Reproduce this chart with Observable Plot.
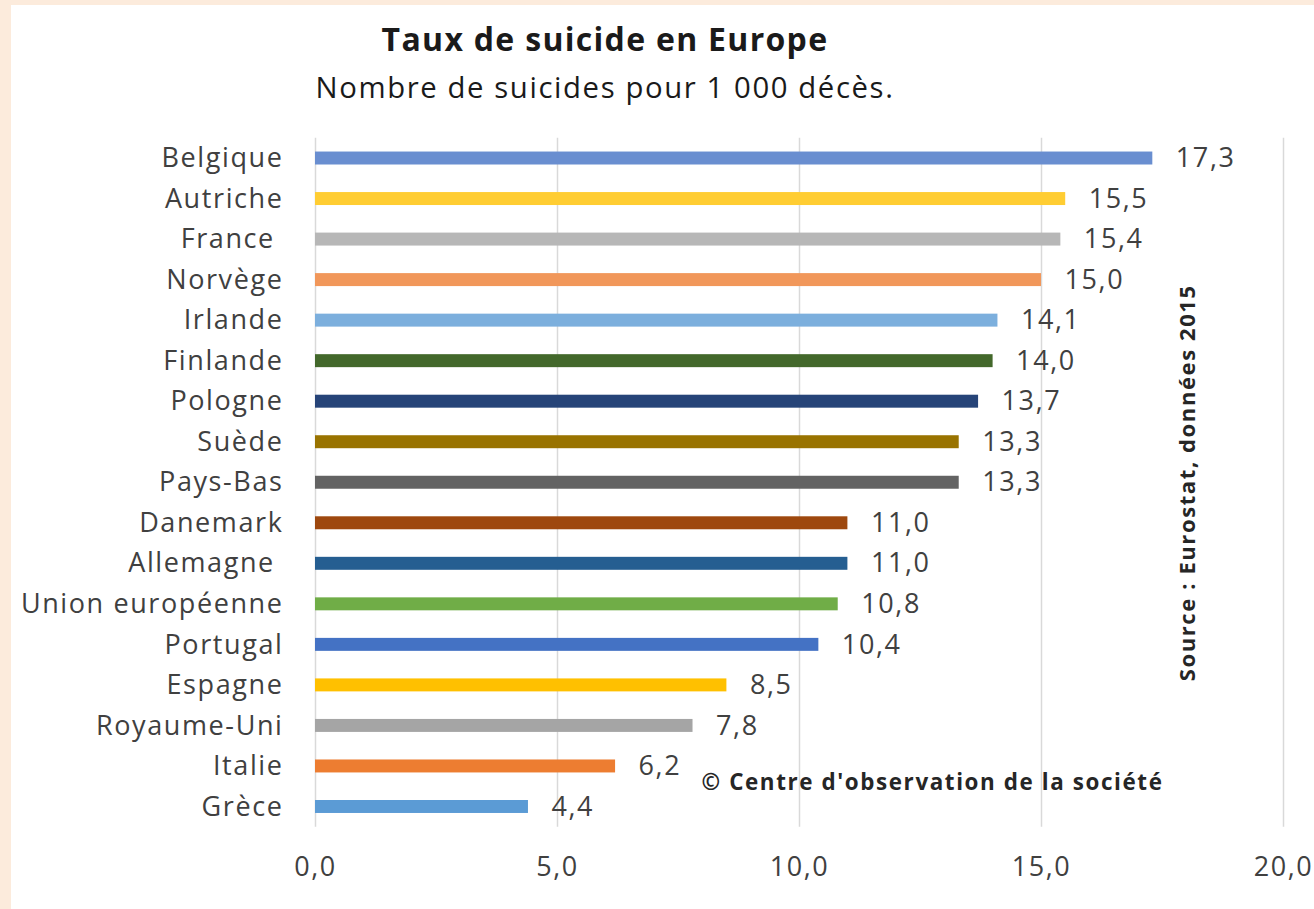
<!DOCTYPE html>
<html>
<head>
<meta charset="utf-8">
<script src="https://cdn.jsdelivr.net/npm/d3@7"></script>
<script src="https://cdn.jsdelivr.net/npm/@observablehq/plot@0.6"></script>
<style>
  html, body { margin: 0; padding: 0; background: #fcebdc; width: 1314px; height: 909px; overflow: hidden; }
  #panel { position: absolute; left: 11px; top: 5px; width: 1303px; height: 904px; background: #ffffff; }
  #title { position: absolute; left: 0; width: 1210px; top: 19px; text-align: center;
           font-family: "Open Sans", sans-serif; font-weight: 700; font-size: 32px; line-height: 40px; color: #1a1a1a; letter-spacing: 1.3px; }
  #subtitle { position: absolute; left: 0; width: 1210px; top: 67px; text-align: center;
           font-family: "Open Sans", sans-serif; font-weight: 400; font-size: 29.3px; line-height: 40px; color: #1a1a1a; letter-spacing: 1.6px; }
  #chart { position: absolute; left: 0; top: 110px; }
  #chart svg { overflow: visible; }
  #chart svg text { white-space: pre; }
  .lbl text { letter-spacing: 1.6px; }
  .note text { letter-spacing: 1.6px; }
</style>
</head>
<body>
<div id="panel"></div>
<div id="title">Taux de suicide en Europe</div>
<div id="subtitle">Nombre de suicides pour 1 000 décès.</div>
<div id="chart"></div>
<script>
const countries = ["Belgique", "Autriche", "France ", "Norvège", "Irlande", "Finlande", "Pologne", "Suède", "Pays-Bas", "Danemark", "Allemagne ", "Union européenne", "Portugal", "Espagne", "Royaume-Uni", "Italie", "Grèce"];
const rates = [17.3, 15.5, 15.4, 15.0, 14.1, 14.0, 13.7, 13.3, 13.3, 11.0, 11.0, 10.8, 10.4, 8.5, 7.8, 6.2, 4.4];
const barColors = ["#698ed0", "#ffcd33", "#b7b7b7", "#f1975a", "#7cafdd", "#43682b", "#264478", "#997300", "#636363", "#9e480e", "#255e91", "#70ad47", "#4472c4", "#ffc000", "#a5a5a5", "#ed7d31", "#5b9bd5"];
const xTicks = [0, 5, 10, 15, 20];
const gridTicks = [5, 10, 15, 20];
const sourceText = "Source : Eurostat, données 2015";
const copyrightText = "© Centre d'observation de la société";

const data = countries.map((c, i) => ({country: c, value: rates[i], color: barColors[i]}));
const fmt = v => v.toFixed(1).replace(".", ",");

const chart = Plot.plot({
  width: 1314,
  height: 799,
  marginLeft: 315,
  marginRight: 31,
  marginTop: 27.75,
  marginBottom: 82.25,
  style: {fontFamily: "Open Sans, sans-serif", fontSize: "27px", color: "#404040", background: "transparent"},
  x: {domain: [0, 20], ticks: xTicks, tickFormat: fmt, label: null},
  y: {domain: countries, paddingInner: 0.68, paddingOuter: 0.34, round: false, label: null},
  marks: [
    Plot.gridX(gridTicks, {stroke: "#d9d9d9", strokeOpacity: 1, strokeWidth: 1.5}),
    Plot.ruleX([0], {stroke: "#d9d9d9", strokeWidth: 1.5}),
    Plot.barX(data, {x: "value", y: "country", fill: "color"}),
    Plot.text(data, {x: "value", y: "country", text: d => fmt(d.value), dx: 23, textAnchor: "start", fill: "#404040", fontSize: 27, className: "lbl"}),
    Plot.axisX({ticks: xTicks, tickFormat: fmt, tickSize: 0, tickPadding: 30, fontSize: 27, className: "lbl", label: null}),
    Plot.axisY({tickSize: 0, tickPadding: 32, fontSize: 27, className: "lbl", label: null}),
    Plot.text([sourceText], {frameAnchor: "right", dx: -96, rotate: -90, textAnchor: "middle", fontWeight: 700, fontSize: 22, fill: "#262626", className: "note"}),
    Plot.text([copyrightText], {frameAnchor: "bottom-right", dx: -120, dy: -44, textAnchor: "end", lineAnchor: "middle", fontWeight: 700, fontSize: 22.4, fill: "#262626", className: "note"})
  ]
});
document.getElementById("chart").appendChild(chart);
</script>
</body>
</html>
